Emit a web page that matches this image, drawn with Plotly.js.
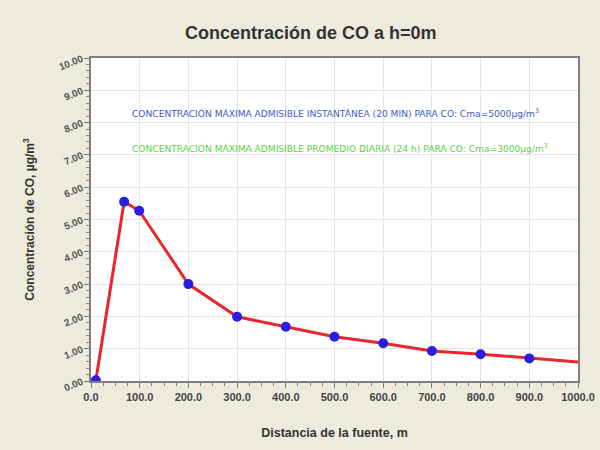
<!DOCTYPE html>
<html>
<head>
<meta charset="utf-8">
<script src="https://cdn.plot.ly/plotly-3.0.1.min.js"></script>
<style>
  body { margin: 0; background: #efebdc; }
  #chart { width: 600px; height: 450px; }
</style>
</head>
<body>
<div id="chart"></div>
<script>
// distance from the source (m) and CO concentration (µg/m3)
const distancia = [10, 68, 99, 200, 300, 400, 500, 600, 700, 800, 900, 1000];
const concentracion = [0.02, 5.55, 5.27, 3.0, 1.99, 1.68, 1.37, 1.17, 0.93, 0.83, 0.70, 0.59];
// the last point only carries the line, it has no marker
const nMarcados = 11;

const xTicks = [0, 100, 200, 300, 400, 500, 600, 700, 800, 900, 1000];
const yTicks = [0, 1, 2, 3, 4, 5, 6, 7, 8, 9, 10];

const notaInstantanea = 'CONCENTRACIÓN MÁXIMA ADMISIBLE INSTANTÁNEA (20 MIN) PARA CO: Cma=5000µg/m<sup>3</sup>';
const notaDiaria = 'CONCENTRACIÓN MÁXIMA ADMISIBLE PROMEDIO DIARIA (24 h) PARA CO: Cma=3000µg/m<sup>3</sup>';

const fuente = '"Liberation Sans", Arial, sans-serif';

Plotly.newPlot('chart', [{
    x: distancia,
    y: concentracion,
    type: 'scatter',
    mode: 'lines',
    line: { color: '#e8262c', width: 3 },
    hoverinfo: 'skip'
}, {
    x: distancia.slice(0, nMarcados),
    y: concentracion.slice(0, nMarcados),
    type: 'scatter',
    mode: 'markers',
    marker: { color: '#2a1ee0', size: 10 }
}], {
    width: 600,
    height: 450,
    showlegend: false,
    paper_bgcolor: '#efebdc',
    plot_bgcolor: '#ffffff',
    margin: { l: 91, r: 22, t: 58, b: 69 },
    title: {
        text: '<b>Concentración de CO a h=0m</b>',
        font: { family: fuente, size: 18, color: '#333333' },
        x: 0.518, xanchor: 'center',
        y: 0.928, yanchor: 'middle'
    },
    xaxis: {
        range: [0, 1000],
        tickvals: xTicks,
        ticktext: xTicks.map(v => '<b>' + v.toFixed(1) + '</b>'),
        tickangle: 0,
        ticks: 'outside', ticklen: 5, tickcolor: '#777',
        minor: { dtick: 25, ticks: 'outside', ticklen: 3, tickcolor: '#888', showgrid: false },
        showgrid: true, gridcolor: '#e4e4ea', gridwidth: 1,
        zeroline: false,
        showline: true, linecolor: '#808080', linewidth: 2, mirror: true,
        tickfont: { family: fuente, size: 11, color: '#444' },
        title: {
            text: '<b>Distancia de la fuente, m</b>',
            font: { family: fuente, size: 12.5, color: '#333' },
            standoff: 26
        }
    },
    yaxis: {
        range: [0, 10],
        tickvals: yTicks,
        ticktext: yTicks.map(v => '<b>' + v.toFixed(2) + '</b>'),
        tickangle: -22,
        ticks: 'outside', ticklen: 5, tickcolor: '#777',
        minor: { dtick: 0.2, ticks: 'outside', ticklen: 3, tickcolor: '#888', showgrid: false },
        showgrid: true, gridcolor: '#e4e4ea', gridwidth: 1,
        zeroline: false,
        showline: true, linecolor: '#808080', linewidth: 2, mirror: true,
        tickfont: { family: fuente, size: 10, color: '#555' },
        title: {
            text: '<b>Concentración de CO, µg/m<sup>3</sup></b>',
            font: { family: fuente, size: 12, color: '#333' },
            standoff: 20
        }
    },
    annotations: [{
        text: notaInstantanea,
        xref: 'paper', yref: 'paper',
        x: 0.08, y: 0.83, xanchor: 'left', yanchor: 'middle',
        showarrow: false,
        font: { family: '"DejaVu Sans", sans-serif', size: 9.1, color: '#3d5cc4' }
    }, {
        text: notaDiaria,
        xref: 'paper', yref: 'paper',
        x: 0.08, y: 0.72, xanchor: 'left', yanchor: 'middle',
        showarrow: false,
        font: { family: '"DejaVu Sans", sans-serif', size: 9.1, color: '#5fd048' }
    }]
}, { displayModeBar: false });
</script>
</body>
</html>
